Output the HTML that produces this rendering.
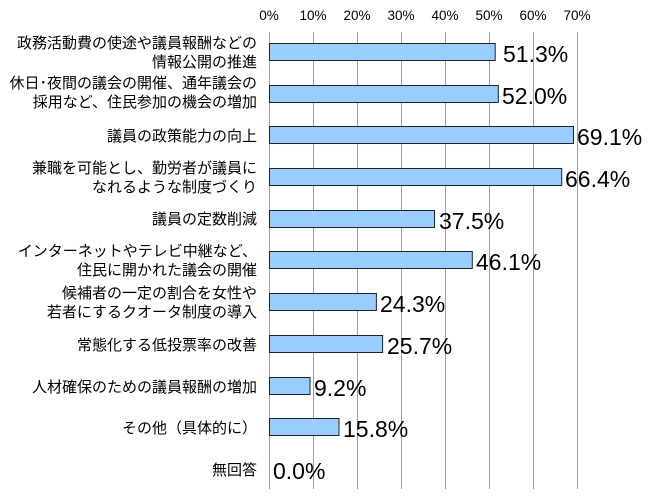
<!DOCTYPE html>
<html><head><meta charset="utf-8"><style>
body{margin:0;background:#fff}
svg text{font-family:"Liberation Sans","Noto Sans CJK JP",sans-serif}
</style></head><body>
<svg width="650" height="497" xmlns="http://www.w3.org/2000/svg">
<g font-size="13.5" fill="#000" text-anchor="middle">
<text x="269" y="20">0%</text><text x="313" y="20">10%</text><text x="357" y="20">20%</text><text x="401" y="20">30%</text><text x="445" y="20">40%</text><text x="489" y="20">50%</text><text x="533" y="20">60%</text><text x="577" y="20">70%</text>
</g>
<g stroke="#a0a0a0" stroke-width="1">
<line x1="269.5" y1="32" x2="269.5" y2="489"/><line x1="313.5" y1="32" x2="313.5" y2="489"/><line x1="357.5" y1="32" x2="357.5" y2="489"/><line x1="401.5" y1="32" x2="401.5" y2="489"/><line x1="445.5" y1="32" x2="445.5" y2="489"/><line x1="489.5" y1="32" x2="489.5" y2="489"/><line x1="533.5" y1="32" x2="533.5" y2="489"/><line x1="577.5" y1="32" x2="577.5" y2="489"/>
</g>
<g fill="#99ccff" stroke="#222" stroke-width="1">
<rect x="269.5" y="43.5" width="225.7" height="17"/>
<rect x="269.5" y="85.5" width="228.8" height="17"/>
<rect x="269.5" y="126.5" width="304" height="17"/>
<rect x="269.5" y="168.5" width="292.2" height="17"/>
<rect x="269.5" y="210.5" width="165" height="17"/>
<rect x="269.5" y="251.5" width="202.8" height="17"/>
<rect x="269.5" y="293.5" width="106.9" height="17"/>
<rect x="269.5" y="335.5" width="113.1" height="17"/>
<rect x="269.5" y="377.5" width="40.5" height="17"/>
<rect x="269.5" y="418.5" width="69.5" height="17"/>
</g>
<g font-size="23" fill="#000">
<text x="503" y="62">51.3%</text><text x="502" y="104">52.0%</text><text x="577" y="145">69.1%</text><text x="565" y="187">66.4%</text><text x="439" y="229">37.5%</text><text x="476" y="270">46.1%</text><text x="380" y="312">24.3%</text><text x="387" y="354">25.7%</text><text x="314" y="396">9.2%</text><text x="343" y="437">15.8%</text><text x="273" y="479">0.0%</text>
</g>
<g font-size="15" fill="#000" text-anchor="end">
<text x="257" y="48">政務活動費の使途や議員報酬などの</text><text x="257" y="67">情報公開の推進</text>
<text x="257" y="88">休日･夜間の議会の開催、通年議会の</text><text x="257" y="107">採用など、住民参加の機会の増加</text>
<text x="257" y="141">議員の政策能力の向上</text>
<text x="257" y="173">兼職を可能とし、勤労者が議員に</text><text x="257" y="192">なれるような制度づくり</text>
<text x="257" y="224">議員の定数削減</text>
<text x="257" y="256">インターネットやテレビ中継など、</text><text x="257" y="275">住民に開かれた議会の開催</text>
<text x="257" y="298">候補者の一定の割合を女性や</text><text x="257" y="317">若者にするクオータ制度の導入</text>
<text x="257" y="350">常態化する低投票率の改善</text>
<text x="257" y="392">人材確保のための議員報酬の増加</text>
<text x="257" y="433">その他（具体的に）</text>
<text x="257" y="475">無回答</text>
</g>
</svg>
</body></html>
